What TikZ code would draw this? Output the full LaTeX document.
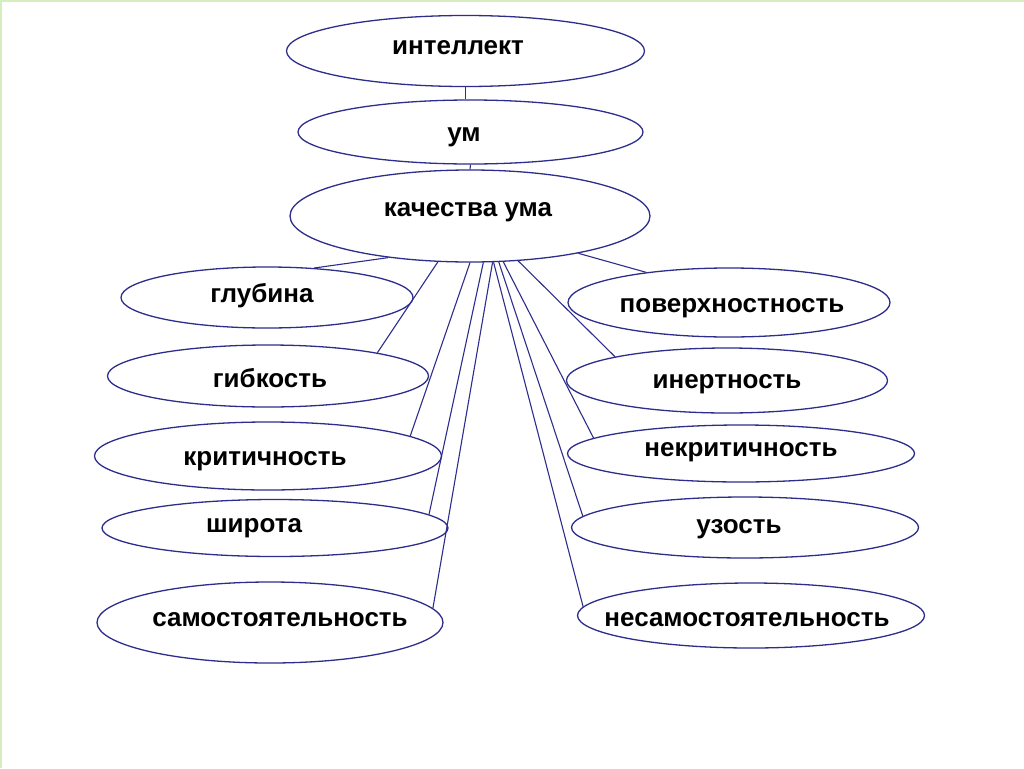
\documentclass[tikz,border=0pt]{standalone}
\usepackage{fontspec}
\setmainfont{Liberation Sans}
\usetikzlibrary{shapes}
\definecolor{ovalline}{RGB}{45,45,140}
\definecolor{slidegreen}{RGB}{214,238,190}

\begin{document}
\begin{tikzpicture}[x=1pt, y=-1pt, font={\fontsize{26}{31}\selectfont\bfseries},
  oval/.style 2 args={ellipse, draw=ovalline, line width=1.3pt, inner sep=0pt, minimum width=#1pt, minimum height=#2pt},
  word/.style={inner sep=0pt, text height=13.5pt, text depth=0pt},
  link/.style={draw=ovalline, line width=1.1pt}]
\useasboundingbox (0,0) rectangle (1024,768);
\draw[slidegreen, line width=2pt] (0,1) -- (1024,1);
\draw[slidegreen, line width=2pt] (1,0) -- (1,768);
%
\node[oval={358}{71}] (int) at (465.5,51) {};
\node[word] (int-t) at (458,48) {интеллект};
\node[oval={345}{64}] (um) at (470.5,132) {};
\node[word] (um-t) at (464,135) {ум};
\node[oval={360}{92}] (q) at (470,216) {};
\node[word] (q-t) at (468,209.5) {качества ума};
%
\node[oval={292}{61}] (glub) at (267,297.5) {};
\node[word] (glub-t) at (262,295.5) {глубина};
\node[oval={321}{62}] (gibk) at (268,376) {};
\node[word] (gibk-t) at (270,380.5) {гибкость};
\node[oval={347}{68}] (krit) at (268,456) {};
\node[word] (krit-t) at (265,459) {критичность};
\node[oval={346}{57}] (shir) at (275,528) {};
\node[word] (shir-t) at (254,526) {широта};
\node[oval={346}{81}] (samost) at (270,622.5) {};
\node[word] (samost-t) at (280,620) {самостоятельность};
%
\node[oval={322}{69}] (pov) at (729,302.5) {};
\node[word] (pov-t) at (732,305.5) {поверхностность};
\node[oval={321}{65}] (inert) at (727,380.5) {};
\node[word] (inert-t) at (727,381.5) {инертность};
\node[oval={347}{57}] (nekrit) at (741,453.5) {};
\node[word] (nekrit-t) at (741,450) {некритичность};
\node[oval={347}{61}] (uz) at (745,527.5) {};
\node[word] (uz-t) at (739,526.5) {узость};
\node[oval={347}{65}] (nesam) at (751,615.5) {};
\node[word] (nesam-t) at (747,620) {несамостоятельность};
%
\draw[link] (int.south) -- (um.north -| int.south);
\draw[link] (um.south) -- (q.north);
\draw[link] (q.-153.5) -- (glub.32);
\draw[link] (q.-125) -- (gibk.12);
\draw[link] (q.-90) -- (krit.8);
\draw[link] (q.-74) -- (shir.5);
\draw[link] (q.-64) -- (samost.5);
\draw[link] (q.-19) -- (pov.160);
\draw[link] (q.-43) -- (inert.168);
\draw[link] (q.-54) -- (nekrit.174);
\draw[link] (q.-58) -- (uz.176);
\draw[link] (q.-63) -- (nesam.177);
\end{tikzpicture}
\end{document}
